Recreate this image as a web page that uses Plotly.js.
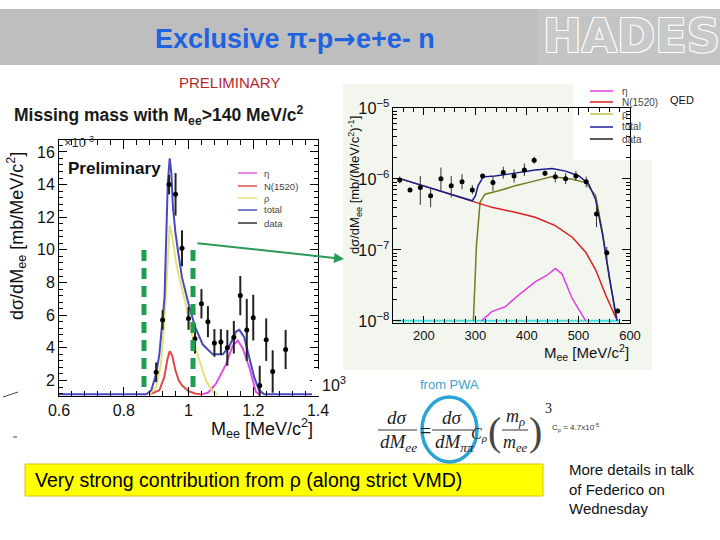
<!DOCTYPE html>
<html><head><meta charset="utf-8">
<script src="https://cdn.plot.ly/plotly-3.0.1.min.js"></script>
<style>html,body{margin:0;padding:0;background:#fff}#chart{width:720px;height:540px}</style>
</head><body><div id="chart"></div>
<script>
// ---------- Left panel: missing mass, linear scale ----------
const leftDataX   = [0.90,0.92,0.94,0.96,0.98,1.00,1.02,1.04,1.06,1.08,1.10,1.12,1.14,1.16,1.18,1.20,1.22,1.24,1.26,1.30];
const leftDataY   = [2.5,5.7,14.0,13.4,10.1,5.8,4.55,6.7,5.6,4.3,4.35,4.0,4.65,7.2,5.1,5.85,1.7,4.5,2.55,3.9];
const leftDataErr = [0.6,0.6,0.6,1.3,1.1,0.7,0.9,0.9,0.95,0.85,0.8,1.1,1.0,1.2,1.9,1.4,1.2,1.3,1.3,1.2];

const leftTotalX = [0.60,0.87,0.885,0.90,0.91,0.92,0.926,0.931,0.936,0.942,0.947,0.952,0.96,0.97,0.98,1.00,1.02,1.044,1.075,1.106,1.126,1.147,1.157,1.172,1.188,1.203,1.218,1.234,1.40];
const leftTotalY = [1.15,1.15,1.4,2.4,3.6,5.7,7.1,10.6,14.1,15.6,14.7,12.6,11.0,9.6,8.3,6.7,5.3,4.2,3.6,3.6,4.1,5.0,5.1,4.65,3.4,2.2,1.4,1.15,1.15];
const leftRhoX = [0.88,0.90,0.915,0.925,0.935,0.942,0.95,0.96,0.97,0.98,0.99,1.008,1.02,1.034,1.054,1.075,1.09];
const leftRhoY = [1.15,1.6,3.0,5.5,9.0,11.5,10.8,9.4,8.4,7.6,6.8,5.05,4.1,3.2,2.0,1.3,1.15];
const leftNX = [0.88,0.91,0.925,0.935,0.942,0.95,0.96,0.97,0.98,1.00,1.02,1.04];
const leftNY = [1.15,1.4,2.2,3.3,3.8,3.5,2.6,2.0,1.7,1.35,1.2,1.15];
const leftEtaX = [1.04,1.06,1.085,1.10,1.116,1.136,1.152,1.167,1.188,1.208,1.22];
const leftEtaY = [1.15,1.25,1.8,2.4,3.0,4.1,4.45,4.0,2.8,1.3,1.15];

// ---------- Right panel: Mee spectrum, log scale ----------
const rightDataX  = [153,173,193,213,233,253,274,294,314,334,354,375,395,414,435,455,475,495,515,535,555,576];
const rightDataY  = [9.7e-7,6.97e-7,7.58e-7,5.8e-7,1.01e-6,8.0e-7,9.1e-7,7.0e-7,1.10e-6,8.9e-7,1.23e-6,1.10e-6,1.34e-6,1.83e-6,1.20e-6,1.07e-6,1.01e-6,1.10e-6,9.1e-7,3.2e-7,9.1e-8,1.38e-8];
const rightDataHi = [1.08e-6,7.3e-7,1.10e-6,7.2e-7,1.45e-6,1.10e-6,1.17e-6,8.2e-7,1.16e-6,1.08e-6,1.49e-6,1.37e-6,1.65e-6,2.06e-6,1.31e-6,1.26e-6,1.20e-6,1.29e-6,1.08e-6,4.3e-7,1.10e-7,1.5e-8];
const rightDataLo = [8.7e-7,6.6e-7,4.3e-7,4.0e-7,6.8e-7,5.5e-7,7.2e-7,6.1e-7,1.04e-6,6.8e-7,1.01e-6,8.9e-7,1.10e-6,1.63e-6,1.10e-6,8.9e-7,8.5e-7,9.4e-7,7.6e-7,2.09e-7,7.5e-8,1.28e-8];

const rightTotalX = [152,294,300,305,315,338,364,390,416,449,475,501,520,533,547,560,573,575];
const rightTotalY = [1.02e-6,4.93e-7,5.8e-7,8.0e-7,1.07e-6,1.10e-6,1.17e-6,1.26e-6,1.34e-6,1.40e-6,1.29e-6,1.10e-6,8.45e-7,5.2e-7,1.6e-7,4.0e-8,1.09e-8,1.0e-8];
const rightNX = [152,294,332,377,416,455,488,514,533.5,553,573];
const rightNY = [1.02e-6,4.93e-7,3.98e-7,3.39e-7,2.88e-7,2.2e-7,1.51e-7,9.3e-8,5.2e-8,2.3e-8,1.09e-8];
const rightRhoX = [296,302,309,318.6,345,377,416,449,488,514,533.5,546.6,559.6,572.6];
const rightRhoY = [1.0e-8,1.16e-7,4.68e-7,6.1e-7,6.8e-7,8.0e-7,9.4e-7,1.08e-6,9.9e-7,8.9e-7,5.8e-7,1.78e-7,4.4e-8,1.15e-8];
const rightEtaX = [312,331.6,357.7,383.7,416,439,455,468,488,514];
const rightEtaY = [1.0e-8,1.35e-8,1.58e-8,2.31e-8,3.55e-8,4.4e-8,5.46e-8,4.6e-8,2.05e-8,1.0e-8];
const rightQedX = [144,580];
const rightQedY = [1.0e-8,1.0e-8];

const legendLabels = ['η','N(1520)','ρ','total','data'];

// ---------- helpers (pixel -> paper) ----------
const W=720,H=540;
const px=x=>x/W, py=y=>1-y/H;
function A(x,y,text,font,o){
  return Object.assign({xref:'paper',yref:'paper',x:px(x),y:py(y),text:text,showarrow:false,
    xanchor:'center',yanchor:'middle',
    font:Object.assign({family:'Arial, Liberation Sans',size:12,color:'#000'},font||{})},o||{});
}
function R(x0,y0,x1,y1,fill,lc,lw,layer){
  return {type:'rect',xref:'paper',yref:'paper',x0:px(x0),x1:px(x1),y0:py(y0),y1:py(y1),
    fillcolor:fill,line:{color:lc||'rgba(0,0,0,0)',width:lw||0},layer:layer||'below'};
}
function L(x0,y0,x1,y1,c,w,dash,layer){
  return {type:'line',xref:'paper',yref:'paper',x0:px(x0),x1:px(x1),y0:py(y0),y1:py(y1),
    line:{color:c,width:w,dash:dash||'solid'},layer:layer||'above'};
}

const traces = [
  {x:leftEtaX,y:leftEtaY,xaxis:'x',yaxis:'y',mode:'lines',line:{color:'#e050e0',width:2}},
  {x:leftNX,y:leftNY,xaxis:'x',yaxis:'y',mode:'lines',line:{color:'#e04848',width:2}},
  {x:leftRhoX,y:leftRhoY,xaxis:'x',yaxis:'y',mode:'lines',line:{color:'#e2e27a',width:2}},
  {x:leftTotalX,y:leftTotalY,xaxis:'x',yaxis:'y',mode:'lines',line:{color:'#4848c0',width:2}},
  {x:leftDataX,y:leftDataY,xaxis:'x',yaxis:'y',mode:'markers',marker:{color:'#000',size:5},
    error_y:{type:'data',array:leftDataErr,color:'#222',thickness:2,width:0}},

  {x:rightQedX,y:rightQedY,xaxis:'x2',yaxis:'y2',mode:'lines',line:{color:'#40e0e0',width:2}},
  {x:rightRhoX,y:rightRhoY,xaxis:'x2',yaxis:'y2',mode:'lines',line:{color:'#7a7a22',width:1.5}},
  {x:rightNX,y:rightNY,xaxis:'x2',yaxis:'y2',mode:'lines',line:{color:'#d82020',width:1.5}},
  {x:rightEtaX,y:rightEtaY,xaxis:'x2',yaxis:'y2',mode:'lines',line:{color:'#e040e0',width:1.5}},
  {x:rightTotalX,y:rightTotalY,xaxis:'x2',yaxis:'y2',mode:'lines',line:{color:'#1c1c90',width:1.5}},
  {x:rightDataX,y:rightDataY,xaxis:'x2',yaxis:'y2',mode:'markers',marker:{color:'#000',size:5},
    error_y:{type:'data',symmetric:false,
      array:rightDataHi.map((v,i)=>v-rightDataY[i]),
      arrayminus:rightDataY.map((v,i)=>v-rightDataLo[i]),
      color:'#333',thickness:1,width:0}}
];

const axBase = {showline:true,linecolor:'#000',linewidth:1,mirror:'ticks',ticks:'inside',
  tickcolor:'#000',showgrid:false,zeroline:false,fixedrange:true};

const layout = {
  width:W,height:H,margin:{l:0,r:0,t:0,b:0},showlegend:false,
  paper_bgcolor:'#fff',plot_bgcolor:'rgba(0,0,0,0)',
  xaxis:Object.assign({},axBase,{domain:[px(59),px(318)],anchor:'y',range:[0.6,1.4],tick0:0.6,dtick:0.2,
    ticklen:9,minor:{ticks:'inside',ticklen:5,dtick:0.04,tickcolor:'#000'},
    tickfont:{family:'Arial, Liberation Sans',size:16,color:'#111'}}),
  yaxis:Object.assign({},axBase,{domain:[py(396),py(140)],anchor:'x',range:[1.05,16.73],tick0:0,dtick:2,
    ticklen:8,minor:{ticks:'inside',ticklen:4,dtick:0.4,tickcolor:'#000'},
    tickfont:{family:'Arial, Liberation Sans',size:16,color:'#111'}}),
  xaxis2:Object.assign({},axBase,{domain:[px(393),px(630)],anchor:'y2',range:[140,600],tick0:0,dtick:100,
    ticklen:7,minor:{ticks:'inside',ticklen:4,dtick:20,tickcolor:'#000'},
    tickfont:{family:'Arial, Liberation Sans',size:13,color:'#111'}}),
  yaxis2:Object.assign({},axBase,{domain:[py(323),py(108)],anchor:'x2',type:'log',range:[-8.03,-5],dtick:1,
    exponentformat:'power',showexponent:'all',ticklen:8,
    minor:{ticks:'inside',ticklen:4,dtick:'D1',tickcolor:'#000'},
    tickfont:{family:'Arial, Liberation Sans',size:13,color:'#111'}}),
  shapes:[],
  annotations:[]
};

const S = layout.shapes, N = layout.annotations;
// banner
S.push(R(0,9,537,65,'#bebebe'));
S.push(R(537,9,720,65,'#c4c4c4'));
// right panel background and legend cut-out
S.push(R(343,84,652,370,'#f2f6ef'));
S.push(R(573,78,652,160,'#ffffff'));
// green dashed markers
S.push(L(144,250,144,392,'#1f9e52',5,'11px,7px'));
S.push(L(193,250,193,392,'#1f9e52',5,'11px,7px'));
// white box over left plot corner with "10^3"
S.push(R(312,369,346,396,'#ffffff',null,0,'above'));
// left legend lines
const legColsL=['#e060e0','#e05050','#e0e080','#5050c0','#333'];
const legYL=[173,186,198,210,223];
legColsL.forEach((c,i)=>{S.push(L(238,legYL[i],257,legYL[i],c,1.5));
  N.push(A(262,legYL[i],legendLabels[i],{size:9.5,color:'#444'},{xanchor:'left'}));});
// right legend lines
const legColsR=['#e040e0','#d82020','#c0c040','#2020a0','#222'];
const legYR=[91,102,114,127,139];
legColsR.forEach((c,i)=>{S.push(L(590,legYR[i],613,legYR[i],c,1.5));
  N.push(A(620,legYR[i],legendLabels[i],{size:10,color:'#444'},{xanchor:'left'}));});
// formula fraction bars and circle
S.push(L(378,430,417,430,'#333',1));
S.push(L(432,430,473,430,'#333',1));
S.push(L(502,430,528,430,'#333',1));
S.push({type:'circle',xref:'paper',yref:'paper',x0:px(422),x1:px(477),y0:py(397),y1:py(462),
  line:{color:'#2aa3d5',width:3.5},fillcolor:'rgba(0,0,0,0)',layer:'above'});
// yellow box
S.push(R(25,464,543,496,'#ffff00','#d4c400',1,'below'));
// stray marks at left edge
S.push(L(3,397,18,392,'#444',1));
S.push(L(13,437,17,437,'#444',1));

// texts
N.push(A(295,39,'Exclusive π-p<span style="font-family:DejaVu Sans">→</span>e+e- n',{size:27,color:'#1f63e0',weight:'bold'}));
N.push(A(541,36,'HADES',{family:'DejaVu Sans',size:46,color:'#c9c9c9',weight:'bold',
  shadow:'1px 1px 0 #fff, -1px -1px 0 #fff, 1px -1px 0 #fff, -1px 1px 0 #fff'},{xanchor:'left'}));
N.push(A(229,82,'PRELIMINARY',{size:15,color:'#b5282e'}));
N.push(A(12,115,'Missing mass with M<sub>ee</sub>&gt;140 MeV/c<sup>2</sup>',{size:17.5,color:'#1a1a1a',weight:'bold'},{xanchor:'left'}));
N.push(A(62,142,'×10<sup>-3</sup>',{size:13,color:'#333'},{xanchor:'left'}));
N.push(A(66,168,'Preliminary',{size:17,color:'#111',weight:'bold'},{xanchor:'left'}));
N.push(A(16,236,'dσ/dM<sub>ee</sub> [mb/MeV/c<sup>2</sup>]',{size:18,color:'#111'},{textangle:-90}));
N.push(A(315,428,'M<sub>ee</sub> [MeV/c<sup>2</sup>]',{size:18,color:'#111'},{xanchor:'right'}));
N.push(A(355,185,'dσ/dM<sub>ee</sub> [mb/(MeV/c<sup>2</sup>)<sup>-1</sup>]',{size:13,color:'#111'},{textangle:-90}));
N.push(A(631,352,'M<sub>ee</sub> [MeV/c<sup>2</sup>]',{size:15,color:'#111'},{xanchor:'right'}));
N.push(A(668,100,'QED',{size:11,color:'#111'},{xanchor:'left'}));
N.push(A(320,384,'10<sup>3</sup>',{size:16,color:'#111'},{xanchor:'left'}));
N.push(A(449,385,'from PWA',{size:13,color:'#3da5cf'}));
// formula
const serif={family:'Liberation Serif, Times New Roman',size:19,color:'#222',style:'italic'};
N.push(A(397,417,'dσ',serif));
N.push(A(398,443,'dM<sub>ee</sub>',serif));
N.push(A(425,431,'=',Object.assign({},serif,{style:'normal',size:20})));
N.push(A(452,417,'dσ',serif));
N.push(A(454,443,'dM<sub>ππ</sub>',serif));
N.push(A(479,434,'C<sub>ρ</sub>',Object.assign({},serif,{size:16})));
N.push(A(494,431,'(',Object.assign({},serif,{style:'normal',size:40,color:'#444'})));
N.push(A(535,431,')',Object.assign({},serif,{style:'normal',size:40,color:'#444'})));
N.push(A(515,417,'m<sub>ρ</sub>',Object.assign({},serif,{size:18})));
N.push(A(515,443,'m<sub>ee</sub>',Object.assign({},serif,{size:18})));
N.push(A(543,408,'3',Object.assign({},serif,{style:'normal',size:14}),{xanchor:'left'}));
N.push(A(550,427,'C<sub>ρ</sub> = 4.7x10<sup>-5</sup>',{size:8,color:'#333'},{xanchor:'left'}));
N.push(A(33,480,'Very strong contribution from ρ (along strict VMD)',{size:19.5,color:'#000'},{xanchor:'left'}));
N.push(A(567,489,'More details in talk<br>of Federico on<br>Wednesday',{size:15,color:'#111'},{xanchor:'left',align:'left'}));
// arrow
N.push({xref:'paper',yref:'paper',x:px(344),y:py(259),ax:-148,ay:-16,axref:'pixel',ayref:'pixel',
  text:'',showarrow:true,arrowcolor:'#2a9a55',arrowwidth:2,arrowhead:2,arrowsize:1});

Plotly.newPlot('chart',traces,layout,{staticPlot:true,displayModeBar:false});
</script>
</body></html>
